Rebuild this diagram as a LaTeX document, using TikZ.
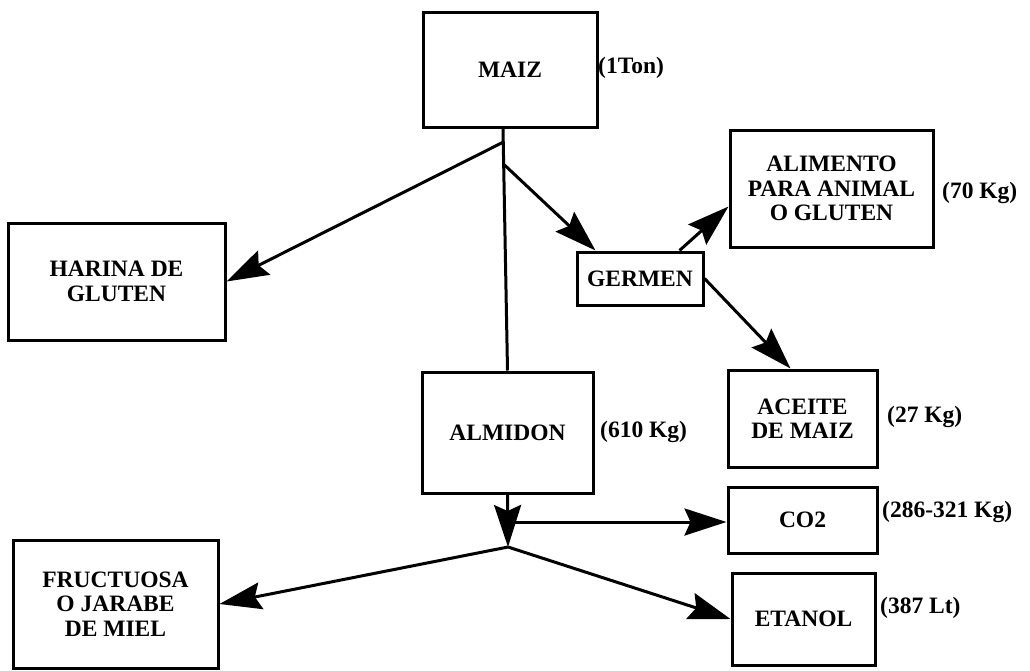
\documentclass[tikz,border=0pt]{standalone}
\usepackage{fontspec}
\setmainfont{Liberation Serif}
\usetikzlibrary{arrows.meta}

\begin{document}
\begin{tikzpicture}[x=1pt, y=-1pt,
    every node/.style={font=\fontsize{23.5}{24.5}\selectfont\bfseries},
    box/.style={draw, line width=3pt, align=center, inner sep=0pt},
    qty/.style={anchor=west, inner sep=0pt},
    line/.style={line width=3pt},
    arr/.style={line width=3pt, -{Stealth[length=42pt,width=27pt,inset=6pt]}}]
    \useasboundingbox (0,0) rectangle (1030,670);
    % boxes
    \node[box, minimum width=174pt, minimum height=115pt] (maiz) at (510,69.5) {MAIZ};
    \node[box, minimum width=217pt, minimum height=117pt] (harina) at (116.5,281.5) {HARINA DE\\GLUTEN};
    \node[box, minimum width=126pt, minimum height=53pt] (germen) at (640,278.5) {GERMEN};
    \node[box, minimum width=203pt, minimum height=117pt] (alimento) at (831.5,188.5) {ALIMENTO\\PARA ANIMAL\\O GLUTEN};
    \node[box, minimum width=149pt, minimum height=97pt] (aceite) at (802.5,418.5) {ACEITE\\DE MAIZ};
    \node[box, minimum width=171pt, minimum height=121pt] (almidon) at (507.5,432.5) {ALMIDON};
    \node[box, minimum width=149pt, minimum height=66pt] (co2) at (802.5,520) {CO2};
    \node[box, minimum width=143pt, minimum height=92pt] (etanol) at (803.5,619) {ETANOL};
    \node[box, minimum width=205pt, minimum height=128pt] (fructuosa) at (115.5,604) {FRUCTUOSA\\O JARABE\\DE MIEL};
    % quantities
    \node[qty] (qmaiz) at (598,68) {(1Ton)};
    \node[qty] (qalimento) at (942,193) {(70 Kg)};
    \node[qty] (qaceite) at (887,417) {(27 Kg)};
    \node[qty] (qalmidon) at (600,432) {(610 Kg)};
    \node[qty] (qco2) at (882,512) {(286-321 Kg)};
    \node[qty] (qetanol) at (880,608) {(387 Lt)};
    % branch points
    \coordinate (j1) at (503.5,142);
    \coordinate (j2) at (504.5,165);
    \coordinate (jn) at (508,547);
    \coordinate (c0) at (508,522);
    % arrows
    \draw[line] ([xshift=-7pt]maiz.south) -- (almidon.north);
    \draw[arr] (j1) -- (harina.east);
    \draw[arr] (j2) -- ([xshift=20pt]germen.north west);
    \draw[arr] ([xshift=-25pt]germen.north east) -- ([yshift=-18pt]alimento.west);
    \draw[arr] (germen.east) -- ([xshift=-12pt]aceite.north);
    \draw[arr] (almidon.south) -- (jn);
    \draw[arr] (c0) -- (c0 -| co2.west);
    \draw[arr] (jn) -- (fructuosa.east);
    \draw[arr] (jn) -- (etanol.west);
\end{tikzpicture}
\end{document}
